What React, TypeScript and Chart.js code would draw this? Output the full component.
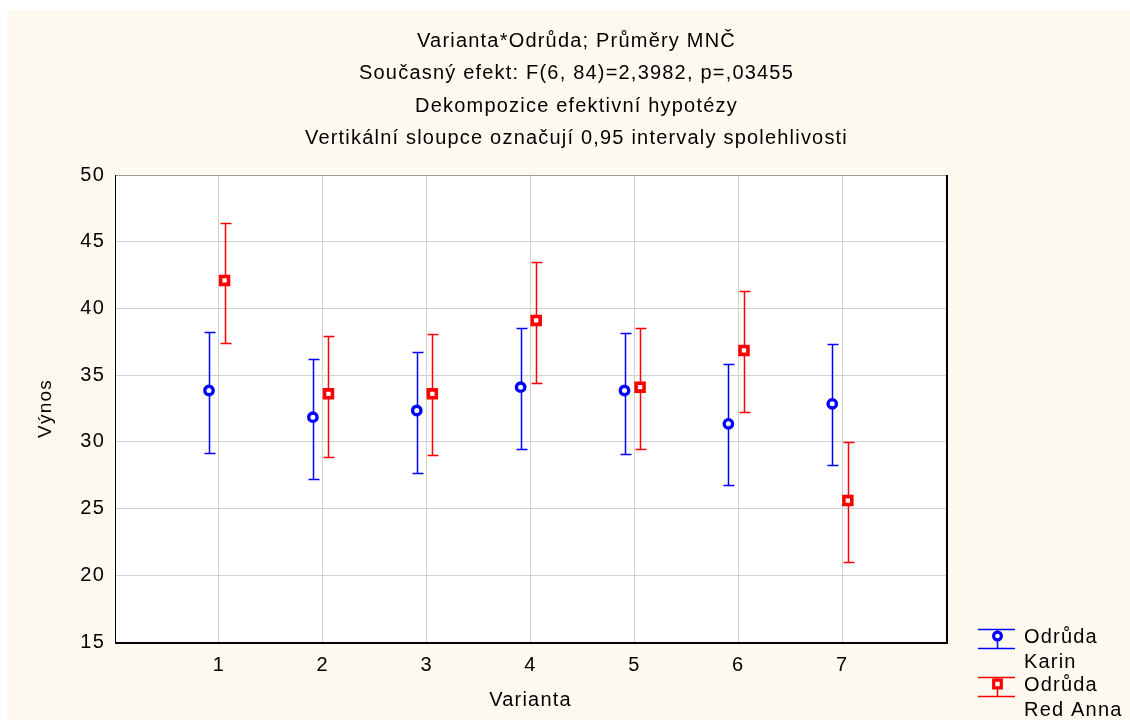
import React, { useEffect, useRef } from 'react';
import { Chart, registerables } from 'chart.js';

Chart.register(...registerables);

const titleLines = [
  'Varianta*Odrůda; Průměry MNČ',
  'Současný efekt: F(6, 84)=2,3982, p=,03455',
  'Dekompozice efektivní hypotézy',
  'Vertikální sloupce označují 0,95 intervaly spolehlivosti',
];
const xAxisTitle = 'Varianta';
const yAxisTitle = 'Výnos';

const categories = [1, 2, 3, 4, 5, 6, 7];
const xTickLabels = ['1', '2', '3', '4', '5', '6', '7'];
const yTicks = [15, 20, 25, 30, 35, 40, 45, 50];

const karinName = ['Odrůda', 'Karin'];
const karinMean = [33.85, 31.85, 32.35, 34.1, 33.85, 31.35, 32.85];
const karinLow = [29.2, 27.2, 27.7, 29.5, 29.1, 26.8, 28.25];
const karinHigh = [38.2, 36.2, 36.75, 38.55, 38.15, 35.8, 37.3];

const redName = ['Odrůda', 'Red Anna'];
const redMean = [42.1, 33.6, 33.6, 39.1, 34.1, 36.85, 25.6];
const redLow = [37.4, 28.9, 29.0, 34.4, 29.5, 32.25, 20.98];
const redHigh = [46.4, 37.95, 38.05, 43.45, 38.5, 41.3, 29.98];

const FONT = "'Liberation Sans', Arial, Helvetica, sans-serif";
const FONT_SIZE = 20;
const LETTER_SPACING = '1.2px';
const BLUE = '#0000ff';
const RED = '#ff0000';
const CREAM = '#fffaf0';

export default function App() {
  const ref = useRef<HTMLCanvasElement>(null);

  useEffect(() => {
    const canvas = ref.current;
    if (!canvas) return;

    const background = {
      id: 'background',
      beforeDraw(chart: any) {
        const { ctx, width, height, chartArea } = chart;
        ctx.letterSpacing = LETTER_SPACING;
        ctx.save();
        ctx.fillStyle = CREAM;
        ctx.fillRect(0, 0, width, height);
        ctx.fillStyle = '#ffffff';
        ctx.fillRect(chartArea.left, chartArea.top, chartArea.right - chartArea.left, chartArea.bottom - chartArea.top);
        ctx.restore();
      },
    };

    const errorBars = {
      id: 'errorBars',
      beforeDatasetsDraw(chart: any) {
        const { ctx } = chart;
        const xs = chart.scales.x;
        const ys = chart.scales.y;
        ctx.save();
        ctx.lineWidth = 1.5;
        chart.data.datasets.forEach((ds: any) => {
          ctx.strokeStyle = ds.borderColor;
          ds.data.forEach((p: any) => {
            const x = Math.round(xs.getPixelForValue(p.x)) + 0.5;
            const yl = Math.round(ys.getPixelForValue(p.low)) + 0.5;
            const yh = Math.round(ys.getPixelForValue(p.high)) + 0.5;
            ctx.beginPath();
            ctx.moveTo(x, yl);
            ctx.lineTo(x, yh);
            ctx.moveTo(x - 5, yl);
            ctx.lineTo(x + 6, yl);
            ctx.moveTo(x - 5, yh);
            ctx.lineTo(x + 6, yh);
            ctx.stroke();
          });
        });
        ctx.restore();
      },
    };

    const frame = {
      id: 'frame',
      afterDraw(chart: any) {
        const { ctx, chartArea } = chart;
        const { left, right, top, bottom } = chartArea;
        ctx.save();
        ctx.strokeStyle = '#9a9a9a';
        ctx.lineWidth = 1;
        ctx.beginPath();
        ctx.moveTo(left, top + 0.5);
        ctx.lineTo(right, top + 0.5);
        ctx.stroke();
        ctx.strokeStyle = '#000000';
        ctx.beginPath();
        ctx.moveTo(left + 0.5, top);
        ctx.lineTo(left + 0.5, bottom);
        ctx.stroke();
        ctx.lineWidth = 2;
        ctx.beginPath();
        ctx.moveTo(left, bottom + 1);
        ctx.lineTo(right + 2, bottom + 1);
        ctx.moveTo(right + 1, top);
        ctx.lineTo(right + 1, bottom + 2);
        ctx.stroke();

        // legend
        const items = [
          { color: BLUE, style: 'circle', name: karinName, y: 619 },
          { color: RED, style: 'rect', name: redName, y: 667 },
        ];
        items.forEach((it) => {
          const x0 = 971;
          const x1 = 1008;
          const xm = 990;
          const yTop = it.y + 0.5;
          const yBot = it.y + 19.5;
          ctx.strokeStyle = it.color;
          ctx.lineWidth = 1.5;
          ctx.beginPath();
          ctx.moveTo(x0, yTop);
          ctx.lineTo(x1, yTop);
          ctx.moveTo(x0, yBot);
          ctx.lineTo(x1, yBot);
          ctx.moveTo(xm + 0.5, yTop);
          ctx.lineTo(xm + 0.5, yBot);
          ctx.stroke();
          const cy = it.y + 7;
          ctx.lineWidth = 3.2;
          ctx.fillStyle = '#ffffff';
          ctx.beginPath();
          if (it.style === 'circle') {
            ctx.arc(xm + 0.5, cy, 3.9, 0, Math.PI * 2);
          } else {
            ctx.rect(xm + 0.5 - 3.8, cy - 3.8, 7.6, 7.6);
          }
          ctx.fill();
          ctx.stroke();
          ctx.fillStyle = '#000000';
          ctx.font = `${FONT_SIZE}px ${FONT}`;
          ctx.letterSpacing = LETTER_SPACING;
          ctx.textAlign = 'left';
          ctx.textBaseline = 'middle';
          ctx.fillText(it.name[0], 1017, it.y + 8);
          ctx.fillText(it.name[1], 1017, it.y + 33);
        });
        ctx.restore();
      },
    };

    const chart = new Chart(canvas, {
      type: 'scatter',
      data: {
        datasets: [
          {
            label: karinName.join(' '),
            data: categories.map((c, i) => ({ x: c - 0.095, y: karinMean[i], low: karinLow[i], high: karinHigh[i] })),
            borderColor: BLUE,
            backgroundColor: '#ffffff',
            pointStyle: 'circle',
            pointRadius: 4.2,
            pointBorderWidth: 3.4,
            pointHoverRadius: 4.2,
          },
          {
            label: redName.join(' '),
            data: categories.map((c, i) => ({ x: c + 0.055, y: redMean[i], low: redLow[i], high: redHigh[i] })),
            borderColor: RED,
            backgroundColor: '#ffffff',
            pointStyle: 'rect',
            pointRadius: 5.6,
            pointBorderWidth: 3.6,
            pointHoverRadius: 5.6,
          },
        ] as any,
      },
      options: {
        animation: false,
        responsive: true,
        maintainAspectRatio: false,
        layout: { padding: { left: 16, right: 0, top: 0, bottom: 0 } },
        plugins: {
          legend: { display: false },
          tooltip: { enabled: false },
          title: {
            display: true,
            text: titleLines,
            color: '#000000',
            font: { family: FONT, size: FONT_SIZE, weight: 'normal', lineHeight: '32.5px' } as any,
            padding: { top: 15, bottom: 20 },
          },
        },
        scales: {
          x: {
            type: 'linear',
            min: 0,
            max: 8,
            afterFit: (s: any) => { s.height = 78; },
            afterBuildTicks: (s: any) => { s.ticks = [0, 1, 2, 3, 4, 5, 6, 7, 8].map((v) => ({ value: v })); },
            ticks: {
              color: '#000000',
              font: { family: FONT, size: FONT_SIZE },
              padding: 11,
              maxRotation: 0,
              autoSkip: false,
              callback: (v: any) => {
                const idx = categories.indexOf(Number(v));
                return idx >= 0 ? xTickLabels[idx] : '';
              },
            },
            grid: {
              drawTicks: false,
              lineWidth: 1,
              color: (c: any) => (c.tick && categories.includes(c.tick.value) ? '#d2d2d2' : 'rgba(0,0,0,0)'),
            },
            border: { display: false },
            title: {
              display: true,
              text: xAxisTitle,
              color: '#000000',
              font: { family: FONT, size: FONT_SIZE },
              padding: { top: 0, bottom: 8 },
            },
          },
          y: {
            type: 'linear',
            min: 15,
            max: 50,
            afterFit: (s: any) => { s.width = 92; },
            afterBuildTicks: (s: any) => { s.ticks = yTicks.map((v) => ({ value: v })); },
            ticks: {
              color: '#000000',
              font: { family: FONT, size: FONT_SIZE },
              padding: 10,
            },
            grid: {
              drawTicks: false,
              lineWidth: 1,
              color: (c: any) => (c.tick && c.tick.value > 15 && c.tick.value < 50 ? '#d2d2d2' : 'rgba(0,0,0,0)'),
            },
            border: { display: false },
            title: {
              display: true,
              text: yAxisTitle,
              color: '#000000',
              font: { family: FONT, size: 19 },
              padding: { top: 11, bottom: 0 },
            },
          },
          spacer: {
            type: 'linear',
            position: 'right',
            display: true,
            afterFit: (s: any) => { s.width = 184; },
            ticks: { display: false },
            grid: { display: false, drawTicks: false },
            border: { display: false },
          },
        },
      } as any,
      plugins: [background, errorBars, frame],
    });

    return () => chart.destroy();
  }, []);

  return (
    <div style={{ position: 'absolute', left: 7, top: 10, width: 1123, height: 710 }}>
      <canvas ref={ref} />
    </div>
  );
}
